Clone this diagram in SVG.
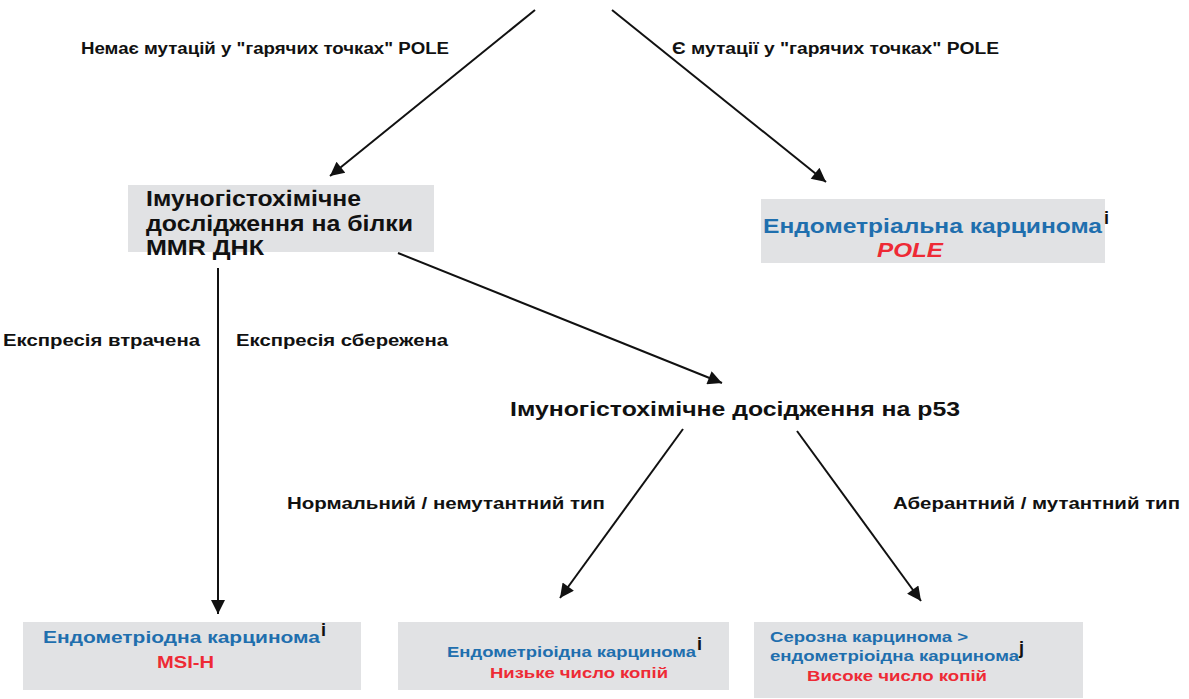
<svg xmlns="http://www.w3.org/2000/svg" width="1189" height="699" viewBox="0 0 1189 699">
<style>
text{font-family:"Liberation Sans",Arial,sans-serif;font-weight:bold}
.box{fill:#e1e2e4}
.lbl{font-size:16px;fill:#111}
.blue{fill:#1f6fae}
.red{fill:#ee2a35}
.sup{font-size:18px;fill:#111}
.ln{stroke:#111;stroke-width:2;fill:none;marker-end:url(#ah)}
</style>
<defs>
<marker id="ah" viewBox="0 0 10 10" refX="10" refY="5" markerWidth="9" markerHeight="7" markerUnits="strokeWidth" orient="auto">
<path d="M0,0 L10,5 L0,10 Z" fill="#111"/>
</marker>
</defs>
<rect width="1189" height="699" fill="#fff"/>
<g id="connectors">
<line class="ln" x1="535" y1="10" x2="330" y2="176"/>
<line class="ln" x1="612" y1="10" x2="826" y2="182"/>
<line class="ln" x1="398" y1="253" x2="722" y2="383"/>
<line class="ln" x1="218" y1="268" x2="218" y2="614"/>
<line class="ln" x1="683" y1="429" x2="560" y2="598"/>
<line class="ln" x1="797" y1="431" x2="921" y2="601"/>
</g>
<g id="edge-labels">
<text class="lbl" x="81" y="54" textLength="368" lengthAdjust="spacingAndGlyphs">Немає мутацій у "гарячих точках" POLE</text>
<text class="lbl" x="672" y="54" textLength="327" lengthAdjust="spacingAndGlyphs">Є мутації у "гарячих точках" POLE</text>
<text class="lbl" x="3" y="346" textLength="197" lengthAdjust="spacingAndGlyphs">Експресія втрачена</text>
<text class="lbl" x="236" y="346" textLength="212" lengthAdjust="spacingAndGlyphs">Експресія сбережена</text>
<text class="lbl" x="287" y="509" textLength="318" lengthAdjust="spacingAndGlyphs">Нормальний / немутантний тип</text>
<text class="lbl" x="893" y="509" textLength="287" lengthAdjust="spacingAndGlyphs">Аберантний / мутантний тип</text>
</g>
<g id="node-mmr">
<rect class="box" x="128" y="185" width="306" height="67"/>
<text x="146" y="206" font-size="22" fill="#111" textLength="215" lengthAdjust="spacingAndGlyphs">Імуногістохімічне</text>
<text x="146" y="231" font-size="22" fill="#111" textLength="267" lengthAdjust="spacingAndGlyphs">дослідження на білки</text>
<text x="146" y="255" font-size="22" fill="#111" textLength="118" lengthAdjust="spacingAndGlyphs">MMR ДНК</text>
</g>
<g id="node-pole">
<rect class="box" x="761" y="199" width="344" height="64"/>
<text class="blue" x="763" y="233" font-size="20" textLength="339" lengthAdjust="spacingAndGlyphs">Ендометріальна карцинома</text>
<text class="sup" x="1104" y="224">i</text>
<text class="red" x="877" y="257" font-size="20" font-style="italic" textLength="66" lengthAdjust="spacingAndGlyphs">POLE</text>
</g>
<g id="node-p53">
<text x="510" y="416" font-size="20" fill="#111" textLength="450" lengthAdjust="spacingAndGlyphs">Імуногістохімічне досідження на р53</text>
</g>
<g id="node-msi">
<rect class="box" x="23" y="622" width="338" height="68"/>
<text class="blue" x="43" y="643" font-size="17" textLength="277" lengthAdjust="spacingAndGlyphs">Ендометріодна карцинома</text>
<text class="sup" x="321" y="636">i</text>
<text class="red" x="157" y="668" font-size="17" textLength="57" lengthAdjust="spacingAndGlyphs">MSI-H</text>
</g>
<g id="node-low">
<rect class="box" x="398" y="622" width="331" height="68"/>
<text class="blue" x="447" y="657" font-size="15" textLength="249" lengthAdjust="spacingAndGlyphs">Ендометріоідна карцинома</text>
<text class="sup" x="697" y="650">i</text>
<text class="red" x="490" y="678" font-size="15" textLength="178" lengthAdjust="spacingAndGlyphs">Низьке число копій</text>
</g>
<g id="node-high">
<rect class="box" x="754" y="622" width="329" height="76"/>
<text class="blue" x="770" y="642" font-size="15" textLength="198" lengthAdjust="spacingAndGlyphs">Серозна карцинома &gt;</text>
<text class="blue" x="770" y="661" font-size="15" textLength="249" lengthAdjust="spacingAndGlyphs">ендометріоідна карцинома</text>
<text class="sup" x="1019" y="654">j</text>
<text class="red" x="807" y="681" font-size="15" textLength="180" lengthAdjust="spacingAndGlyphs">Високе число копій</text>
</g>
</svg>
